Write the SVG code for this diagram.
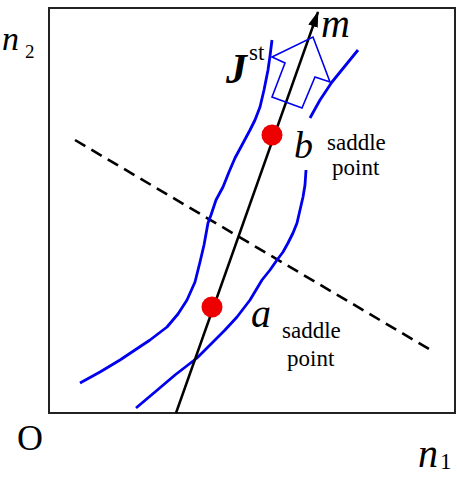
<svg xmlns="http://www.w3.org/2000/svg" width="457" height="479" viewBox="0 0 457 479">
<style>
.i{font-style:italic}
.blue{fill:none;stroke:#0000ee;stroke-width:2.8;stroke-linecap:butt;stroke-linejoin:round}
</style>
<defs>
<marker id="ah" viewBox="0 0 16 10" refX="15" refY="5" markerWidth="16" markerHeight="10" markerUnits="userSpaceOnUse" orient="auto">
<path d="M0,0 L16,5 L0,10 Z" fill="#000"/>
</marker>
</defs>
<rect id="frame" x="49" y="8" width="406" height="405" fill="#fff" stroke="#222" stroke-width="2"/>
<g id="connectors">
<line x1="75" y1="140" x2="434" y2="352" stroke="#000" stroke-width="2.6" stroke-dasharray="12 7"/>
<polyline class="blue" points="272,40 270,56 268,70 264,90 260,107 255,120 250,130 242,145 235,158 229,172 223,187 216,200 211,215 208,223 204,245 200,262 195,282 187,300 178,314 167,327 150,340 135,350 120,360 100,372 80,383"/>
<polyline class="blue" points="306,170 305,185 303,197 300,210 297,223 293,233 288,243 283,252 277,260 270,270 262,280 256,290 250,300 237,317 225,330 215,340 197,358 175,375 155,392 136,408"/>
<polyline class="blue" points="310,118 315,109 320,100 326,91 332,82 345,66 358,50"/>
<line x1="176" y1="413" x2="318" y2="12" stroke="#000" stroke-width="2.5" marker-end="url(#ah)"/>
<polygon points="272,57 313,37 330,82 315,77 302,108 272,97 285,63" fill="none" stroke="#0000ee" stroke-width="1.6" stroke-linejoin="miter"/>
</g>
<g font-family="Liberation Serif, serif">
<g id="saddle-b">
<circle cx="272" cy="135" r="10.5" fill="#ee0000"/>
<text class="i" x="294" y="158" font-size="38" font-family="Liberation Serif">b</text>
<text x="327" y="150" font-size="23" font-family="Liberation Serif">saddle</text>
<text x="332" y="175" font-size="23" font-family="Liberation Serif">point</text>
</g>
<g id="saddle-a">
<circle cx="212" cy="307" r="10.5" fill="#ee0000"/>
<text class="i" x="251" y="327" font-size="40" font-family="Liberation Serif">a</text>
<text x="282" y="338" font-size="23" font-family="Liberation Serif">saddle</text>
<text x="287" y="366" font-size="23" font-family="Liberation Serif">point</text>
</g>
<g id="labels">
<text class="i" x="321" y="37" font-size="40" font-family="Liberation Serif">m</text>
<text class="i" x="226" y="83" font-size="42" font-weight="bold" font-family="Liberation Serif">J</text>
<text x="249" y="60" font-size="23" font-family="Liberation Serif">st</text>
<text class="i" x="2" y="50" font-size="34" font-family="Liberation Serif">n</text>
<text x="25" y="58" font-size="19" font-family="Liberation Serif">2</text>
<text x="17" y="450" font-size="36" font-family="Liberation Serif">O</text>
<text class="i" x="418" y="467" font-size="40" font-family="Liberation Serif">n</text>
<text x="440" y="469" font-size="23" font-family="Liberation Serif">1</text>
</g>
</g>
</svg>
